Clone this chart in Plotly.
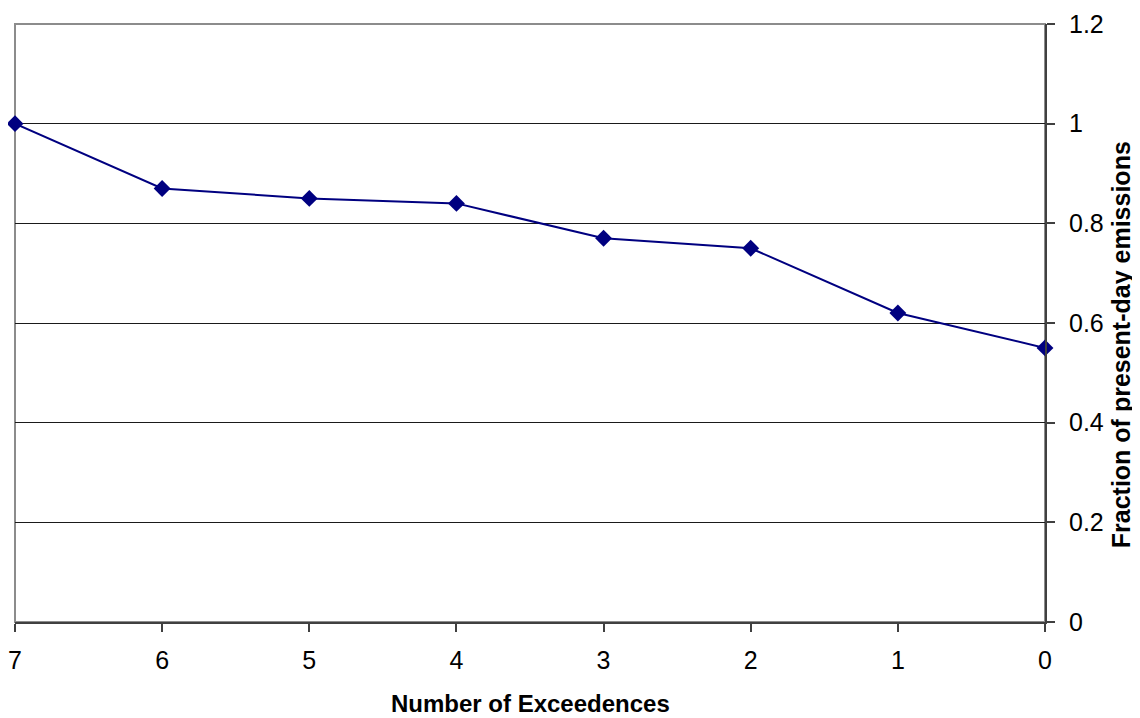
import plotly.graph_objects as go

exceedences = [7, 6, 5, 4, 3, 2, 1, 0]
fraction = [1.0, 0.87, 0.85, 0.84, 0.77, 0.75, 0.62, 0.55]
y_ticks = [0, 0.2, 0.4, 0.6, 0.8, 1, 1.2]
x_ticks = [7, 6, 5, 4, 3, 2, 1, 0]

fig = go.Figure()
fig.add_trace(go.Scatter(
    x=exceedences, y=fraction, mode="lines+markers",
    line=dict(color="#000080", width=2),
    marker=dict(symbol="diamond", size=13, color="#000080"),
    cliponaxis=False, showlegend=False,
))

font = "Liberation Sans, Arial, sans-serif"
# page body has an 8px default margin, so the figure is sized to fit the window
fig.update_layout(
    width=1132, height=710,
    margin=dict(l=7, r=95, t=16, b=96),
    paper_bgcolor="white", plot_bgcolor="white",
    font=dict(family=font, size=25, color="black"),
    shapes=[dict(type="rect", xref="paper", yref="paper", x0=0, y0=0, x1=1, y1=1,
                 line=dict(color="#8c8c8c", width=2), layer="below")],
    annotations=[
        dict(text="<b>Number of Exceedences</b>", xref="paper", yref="paper",
             x=0.5, y=-0.136, xanchor="center", yanchor="middle",
             showarrow=False, font=dict(size=24), borderpad=0),
        dict(text="<b>Fraction of present-day emissions</b>", xref="paper", yref="paper",
             x=1.074, y=0.4632, xanchor="center", yanchor="middle", textangle=-90,
             showarrow=False, font=dict(size=25), borderpad=0),
    ],
)
fig.update_xaxes(
    range=[7, 0], tickvals=x_ticks, ticktext=[str(v) for v in x_ticks],
    showgrid=False, zeroline=False, automargin=False,
    showline=True, linecolor="#404040", linewidth=2,
    ticks="outside", ticklen=8, tickwidth=2, tickcolor="#404040",
    tickfont=dict(size=25), ticklabelstandoff=7,
)
fig.update_yaxes(
    side="right", range=[0, 1.2], tickvals=y_ticks,
    ticktext=[("%g" % v) for v in y_ticks],
    showgrid=True, gridcolor="#1a1a1a", gridwidth=1, zeroline=False, automargin=False,
    showline=True, linecolor="#404040", linewidth=2,
    ticks="outside", ticklen=8, tickwidth=2, tickcolor="#404040",
    tickfont=dict(size=25), ticklabelstandoff=9,
)

fig.write_html("out.html")
